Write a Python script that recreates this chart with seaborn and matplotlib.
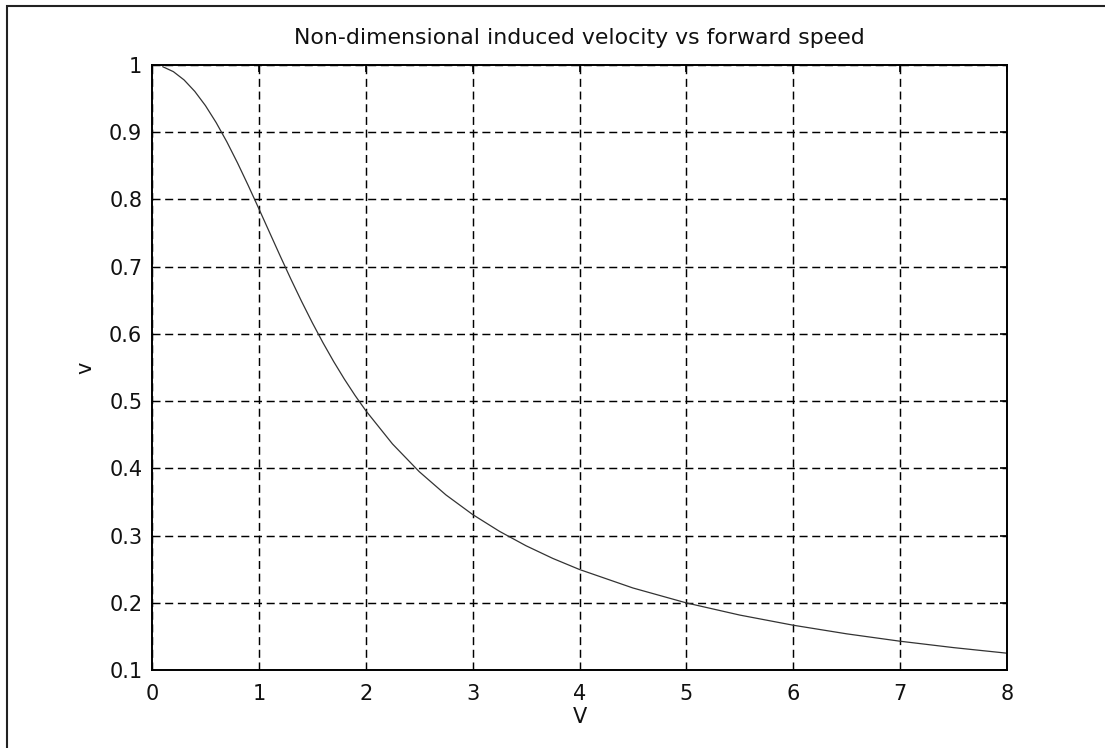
import matplotlib
matplotlib.use("Agg")
import matplotlib.pyplot as plt
from matplotlib.patches import Rectangle
import seaborn as sns
import pandas as pd

# Forward speed V and non-dimensional induced velocity v
speed = [0.1, 0.2, 0.3, 0.4, 0.5, 0.6, 0.7, 0.8, 0.9, 1.0,
         1.1, 1.2, 1.3, 1.4, 1.5, 1.6, 1.7, 1.8, 1.9, 2.0,
         2.25, 2.5, 2.75, 3.0, 3.25, 3.5, 3.75, 4.0,
         4.5, 5.0, 5.5, 6.0, 6.5, 7.0, 7.5, 8.0]
induced = [0.9975, 0.9901, 0.9778, 0.9608, 0.9396, 0.9144, 0.8858, 0.8544, 0.8209, 0.7862,
           0.7509, 0.7157, 0.6813, 0.6482, 0.6166, 0.5868, 0.5588, 0.5327, 0.5084, 0.4859,
           0.4363, 0.3951, 0.3605, 0.3313, 0.3064, 0.2848, 0.2660, 0.2495,
           0.2220, 0.1998, 0.1817, 0.1666, 0.1538, 0.1428, 0.1333, 0.1250]

x_ticks = [0, 1, 2, 3, 4, 5, 6, 7, 8]
y_ticks = [0.1, 0.2, 0.3, 0.4, 0.5, 0.6, 0.7, 0.8, 0.9, 1.0]
y_tick_labels = ["0.1", "0.2", "0.3", "0.4", "0.5", "0.6", "0.7", "0.8", "0.9", "1"]

df = pd.DataFrame({"V": speed, "v": induced})

sns.set_theme(style="white")
plt.rcParams["font.family"] = ["DejaVu Sans"]

fig = plt.figure(figsize=(11.05, 7.48), dpi=100)
fig.patch.set_facecolor("white")
ax = fig.add_axes([152 / 1105, 1 - 670 / 748, (1007 - 152) / 1105, (670 - 65) / 748])

# outer frame of the figure
fig.add_artist(Rectangle((7 / 1105, -0.05), 1.2, 1 - 6 / 748 + 0.05,
                         transform=fig.transFigure, fill=False,
                         edgecolor="#222222", linewidth=1.5))

sns.lineplot(data=df, x="V", y="v", ax=ax, color="#333333", linewidth=0.9)

ax.set_xlim(0, 8)
ax.set_ylim(0.1, 1.0)
ax.set_xticks(x_ticks)
ax.set_yticks(y_ticks)
ax.set_yticklabels(y_tick_labels)
ax.grid(True, color="black", linestyle=(0, (5.5, 3.2)), linewidth=1.05)
for s in ax.spines.values():
    s.set_color("black")
    s.set_linewidth(1.4)
ax.tick_params(direction="in", length=5, width=1.2, color="black",
               top=True, right=True, labelsize=15, labelcolor="#111111")
ax.tick_params(axis="x", pad=10)
ax.tick_params(axis="y", pad=7)

ax.set_title("Non-dimensional induced velocity vs forward speed",
             fontsize=15.8, color="#111111", pad=15)
ax.set_xlabel("V", fontsize=15, color="#111111", labelpad=2)
ax.set_ylabel("v", fontsize=15, color="#111111", labelpad=10)

fig.savefig("out.png", dpi=100, facecolor="white")
